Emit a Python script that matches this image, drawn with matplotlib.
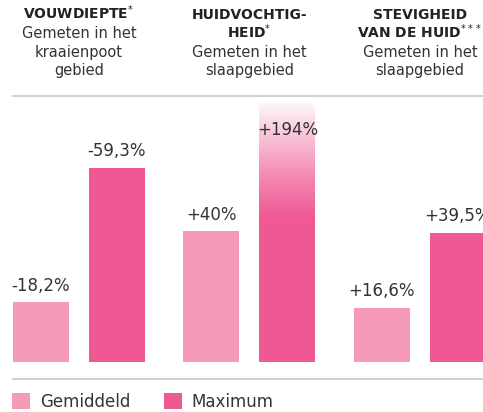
import numpy as np
import matplotlib
matplotlib.use("Agg")
import matplotlib.pyplot as plt
from matplotlib.transforms import blended_transform_factory

# data
titles = [["VOUWDIEPTE$^{*}$"], ["HUIDVOCHTIG-", "HEID$^{*}$"], ["STEVIGHEID", "VAN DE HUID$^{***}$"]]
subtitles = [["Gemeten in het", "kraaienpoot", "gebied"],
             ["Gemeten in het", "slaapgebied"],
             ["Gemeten in het", "slaapgebied"]]
gemiddeld = [18.2, 40, 16.6]
maximum = [59.3, 194, 39.5]
gem_labels = ["-18,2%", "+40%", "+16,6%"]
max_labels = ["-59,3%", "+194%", "+39,5%"]
series = ["Gemiddeld", "Maximum"]

light = "#F59BB8"
dark = "#EF5893"
txt = "#333333"
grey = "#CCCCCC"

W, H = 483, 412
fig = plt.figure(figsize=(W / 100, H / 100), dpi=100)
ax = fig.add_axes([0, 50 / H, 1, 259 / H])
ax.set_axis_off()

x = np.arange(len(titles))
w = 0.328
off = 0.223
ytop = 259 / 3.27
ax.set_xlim(-0.463, 2.370)
ax.set_ylim(0, ytop)

b1 = ax.bar(x - off, gemiddeld, w, color=light, label=series[0])
b2 = ax.bar(x + off, maximum, w, color=dark, label=series[1])

for i in range(len(x)):
    ax.annotate(gem_labels[i], (x[i] - off, gemiddeld[i]), xytext=(0, 12),
                textcoords="offset points", ha="center", va="center",
                fontsize=12, color=txt)
    if maximum[i] < ytop:
        ax.annotate(max_labels[i], (x[i] + off, maximum[i]), xytext=(0, 12),
                    textcoords="offset points", ha="center", va="center",
                    fontsize=12, color=txt)
    else:
        # bar runs off the top: fade it out
        y0 = (362 - 222) / 3.27
        alpha = np.linspace(0, 0.97, 200) ** 1.2
        grad = np.ones((200, 1, 4))
        grad[:, 0, 3] = alpha
        ax.imshow(grad, extent=[x[i] + off - w / 2, x[i] + off + w / 2, y0, ytop],
                  origin="lower", aspect="auto", zorder=3, interpolation="bilinear")
        ax.annotate(max_labels[i], (x[i] + off, ytop), xytext=(0, -19.5),
                    textcoords="offset points", ha="center", va="center",
                    fontsize=12, color=txt, zorder=4)

# header, one line at a time
tr = blended_transform_factory(ax.transData, fig.transFigure)
baselines = [19, 38, 57, 75]
for i in range(len(x)):
    k = 0
    for line in titles[i]:
        ax.text(x[i], 1 - baselines[k] / H, line, transform=tr, ha="center",
                va="baseline", fontsize=10, fontweight="bold", color="#222222")
        k += 1
    for line in subtitles[i]:
        ax.text(x[i], 1 - baselines[k] / H, line, transform=tr, ha="center",
                va="baseline", fontsize=10.5, color=txt)
        k += 1

for yy in (96, 379):
    fig.add_artist(plt.Line2D([13 / W, 1], [1 - yy / H, 1 - yy / H],
                              transform=fig.transFigure, color=grey, lw=1.3))

fig.legend(handles=[b1, b2], loc="lower left", bbox_to_anchor=(12 / W, 1 / H),
           ncol=2, frameon=False, fontsize=12, handlelength=1.08, handleheight=1.08,
           handletextpad=0.6, columnspacing=2.0, borderpad=0, borderaxespad=0,
           labelcolor=txt)

fig.savefig("out.png", dpi=100)
